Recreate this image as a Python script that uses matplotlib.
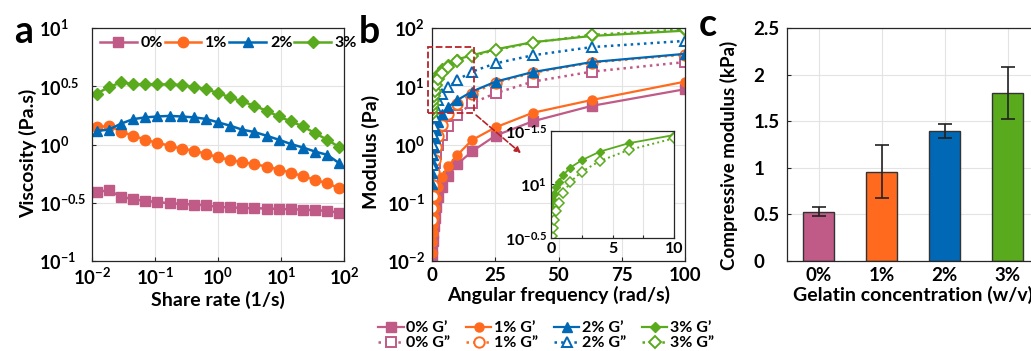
import matplotlib
matplotlib.use("Agg")
import matplotlib.pyplot as plt
from matplotlib.patches import Rectangle

# ---- data -------------------------------------------------------------
labels_pct = ["0%", "1%", "2%", "3%"]
colors = ["#c05a86", "#ff6a1e", "#0068b5", "#5aaa1e"]
markers = ["s", "o", "^", "D"]

# panel a: viscosity vs shear rate
shear_rate = [0.0119, 0.0185, 0.0288, 0.0449, 0.0700, 0.109, 0.170, 0.264, 0.412, 0.642,
              1.0, 1.56, 2.43, 3.78, 5.89, 9.18, 14.3, 22.3, 34.7, 54.1, 84.1]
visc_0 = [0.394, 0.403, 0.357, 0.339, 0.328, 0.321, 0.313, 0.309, 0.305, 0.301, 0.291,
          0.289, 0.285, 0.284, 0.282, 0.280, 0.278, 0.276, 0.273, 0.269, 0.260]
visc_1 = [1.40, 1.45, 1.29, 1.19, 1.10, 1.03, 0.98, 0.918, 0.888, 0.831, 0.778,
          0.738, 0.705, 0.678, 0.647, 0.610, 0.574, 0.535, 0.497, 0.465, 0.421]
visc_2 = [1.31, 1.34, 1.51, 1.65, 1.71, 1.74, 1.76, 1.74, 1.71, 1.66, 1.55,
          1.45, 1.34, 1.28, 1.19, 1.10, 1.01, 0.942, 0.870, 0.815, 0.691]
visc_3 = [2.73, 3.11, 3.41, 3.30, 3.28, 3.28, 3.28, 3.24, 3.11, 2.99, 2.76,
          2.54, 2.34, 2.15, 1.95, 1.74, 1.58, 1.43, 1.25, 1.10, 0.949]

# panel b: moduli vs angular frequency
freq = [0.1, 0.158, 0.251, 0.398, 0.631, 1.0, 1.58, 2.51, 3.98, 6.31, 10.0, 15.8, 25.1, 39.8, 63.1, 100.0]
g1_0 = [0.012, 0.016, 0.022, 0.030, 0.040, 0.055, 0.085, 0.126, 0.19, 0.29, 0.46, 0.76, 1.42, 2.5, 4.6, 8.9]
g2_0 = [0.07, 0.10, 0.15, 0.22, 0.33, 0.48, 0.70, 1.0, 1.46, 2.08, 3.2, 5.1, 7.6, 12.0, 17.8, 26.0]
g1_1 = [0.0135, 0.021, 0.030, 0.042, 0.058, 0.081, 0.12, 0.19, 0.28, 0.42, 0.66, 1.19, 1.97, 3.5, 5.8, 12.0]
g2_1 = [0.05, 0.08, 0.13, 0.20, 0.34, 0.55, 0.9, 1.4, 2.2, 3.3, 5.0, 7.5, 11.5, 17.0, 25.5, 35.0]
g1_2 = [0.21, 0.32, 0.48, 0.66, 0.92, 1.28, 1.77, 2.4, 3.3, 4.4, 5.8, 8.1, 12.0, 17.5, 26.0, 36.0]
g2_2 = [0.45, 0.7, 1.0, 1.5, 2.1, 3.0, 4.2, 5.8, 7.4, 9.6, 12.8, 17.8, 24.7, 34.0, 47.0, 60.0]
g1_3 = [6.0, 7.2, 8.1, 9.4, 10.6, 12.3, 14.4, 16.9, 20.3, 24.3, 29.0, 34.0, 43.0, 57.0, 73.0, 90.0]
g2_3 = [3.3, 3.9, 4.7, 5.6, 6.7, 8.3, 10.6, 13.2, 16.6, 21.0, 27.0, 33.0, 42.0, 56.0, 76.0, 95.0]

# panel c: compressive modulus
comp_mean = [0.53, 0.96, 1.40, 1.80]
comp_err = [0.045, 0.28, 0.075, 0.28]

a_xticks = [1e-2, 1e-1, 1e0, 1e1, 1e2]
a_xticklabels = [r"$10^{-2}$", r"$10^{-1}$", r"$10^{0}$", r"$10^{1}$", r"$10^{2}$"]
a_yticks = [10 ** -1, 10 ** -0.5, 1, 10 ** 0.5, 10]
a_yticklabels = [r"$10^{-1}$", r"$10^{-0.5}$", r"$10^{0}$", r"$10^{0.5}$", r"$10^{1}$"]
b_yticks = [1e-2, 1e-1, 1e0, 1e1, 1e2]
b_yticklabels = [r"$10^{-2}$", r"$10^{-1}$", r"$10^{0}$", r"$10^{1}$", r"$10^{2}$"]
inset_yticks = [10 ** 0.5, 10, 10 ** 1.5]
inset_yticklabels = [r"$10^{-0.5}$", r"$10^{1}$", r"$10^{-1.5}$"]
c_yticks = [0, 0.5, 1, 1.5, 2, 2.5]
c_yticklabels = ["0", "0.5", "1", "1.5", "2", "2.5"]

# ---- style ------------------------------------------------------------
plt.rcParams["font.family"] = ["Lato", "DejaVu Sans"]
plt.rcParams["font.weight"] = "bold"
plt.rcParams["axes.labelweight"] = "bold"
plt.rcParams["mathtext.fontset"] = "custom"
plt.rcParams["mathtext.rm"] = "Lato:bold"
plt.rcParams["mathtext.it"] = "Lato:bold"
plt.rcParams["mathtext.bf"] = "Lato:bold"
plt.rcParams["mathtext.default"] = "rm"

TICK = 13.5
LABEL = 14
GRID = "#e3e3e3"
SPINE = "#262626"

fig = plt.figure(figsize=(10.31, 3.51), dpi=100)
W, H = 1031, 351


def px_axes(left, top, right, bottom):
    return fig.add_axes([left / W, 1 - bottom / H, (right - left) / W, (bottom - top) / H])


def style(ax, size=TICK):
    for s in ax.spines.values():
        s.set_color(SPINE)
        s.set_linewidth(0.9)
    ax.tick_params(which="both", direction="in", length=3, labelsize=size, colors=SPINE,
                   labelcolor="black", pad=5)
    ax.minorticks_off()
    ax.grid(True, color=GRID, linewidth=0.8)
    ax.set_axisbelow(True)


# ---- panel a ----------------------------------------------------------
ax1 = px_axes(92, 28, 344, 261)
for v, c, m, lab in zip([visc_0, visc_1, visc_2, visc_3], colors, markers, labels_pct):
    ms = 6.5 if m == "D" else 7.5
    ax1.plot(shear_rate, v, color=c, marker=m, markersize=ms, linewidth=1.8, label=lab)
ax1.set_xscale("log")
ax1.set_yscale("log")
ax1.set_xlim(1e-2, 1e2)
ax1.set_ylim(1e-1, 1e1)
style(ax1)
ax1.minorticks_off()
ax1.set_xticks(a_xticks)
ax1.set_xticklabels(a_xticklabels)
ax1.set_yticks(a_yticks)
ax1.set_yticklabels(a_yticklabels, ha="left", fontsize=13)
ax1.tick_params(axis="y", pad=38)
ax1.tick_params(axis="x", pad=4)
ax1.set_xlabel("Share rate (1/s)", fontsize=LABEL, labelpad=2)
ax1.set_ylabel("Viscosity (Pa.s)", fontsize=LABEL)
ax1.yaxis.set_label_coords(-0.218, 0.46)
ax1.legend(loc="upper left", bbox_to_anchor=(0.0, 1.0), ncol=4, frameon=False,
           fontsize=11.5, handlelength=2.3, handletextpad=0.25, columnspacing=0.1,
           borderaxespad=0.3, borderpad=0.2)

# ---- panel b ----------------------------------------------------------
ax2 = px_axes(432, 28, 685, 261)
gp = [g1_0, g1_1, g1_2, g1_3]
gpp = [g2_0, g2_1, g2_2, g2_3]
handles = []
for i in range(4):
    ms = 5.5 if markers[i] == "D" else 6.5
    h1, = ax2.plot(freq, gp[i], color=colors[i], marker=markers[i], markersize=ms,
                   linewidth=1.6, label=labels_pct[i] + " G\u2019")
    h2, = ax2.plot(freq, gpp[i], color=colors[i], marker=markers[i], markersize=ms + 1,
                   markerfacecolor="white", markeredgewidth=1.4, linestyle=":",
                   linewidth=1.8, label=labels_pct[i] + " G\u201d")
    handles += [h1, h2]
ax2.set_yscale("log")
ax2.set_xlim(0, 100)
ax2.set_ylim(1e-2, 1e2)
style(ax2)
ax2.minorticks_off()
ax2.set_xticks([0, 25, 50, 75, 100])
ax2.set_yticks(b_yticks)
ax2.set_yticklabels(b_yticklabels)
ax2.tick_params(axis="x", pad=4)
ax2.set_xlabel("Angular frequency (rad/s)", fontsize=LABEL, labelpad=2)
ax2.set_ylabel("Modulus (Pa)", fontsize=LABEL)
ax2.yaxis.set_label_coords(-0.206, 0.47)

# zoom box and arrow
box_col = "#b8232a"
ax2.add_patch(Rectangle((-1.5, 3.43), 18.1, 47.9 - 3.43, fill=False, edgecolor=box_col,
                        linestyle="--", linewidth=1.3, clip_on=False, zorder=10))
ax2.annotate("", xy=(36.0, 0.66), xytext=(16.6, 3.43),
             arrowprops=dict(arrowstyle="-|>", color=box_col, linestyle="--",
                             linewidth=1.2, mutation_scale=9), zorder=10)

fig.legend(handles=handles, loc="upper left", bbox_to_anchor=(370 / W, 1 - 313 / H),
           ncol=4, frameon=False, fontsize=11.5, handlelength=1.6, handletextpad=0.15,
           columnspacing=1.0, labelspacing=0.05, borderpad=0.0)

# inset
axi = px_axes(551, 131, 674, 238)
axi.plot(freq, g1_3, color=colors[3], marker="D", markersize=4.5, linewidth=1.3)
axi.plot(freq, g2_3, color=colors[3], marker="D", markersize=5, markerfacecolor="white",
         markeredgewidth=1.1, linestyle=":", linewidth=1.4)
axi.set_yscale("log")
axi.set_xlim(0, 10)
axi.set_ylim(10 ** 0.5, 10 ** 1.5)
style(axi, size=11.5)
axi.minorticks_off()
axi.set_xticks([0, 2.5, 5, 7.5, 10])
axi.set_xticklabels(["0", "", "5", "", "10"])
axi.set_yticks(inset_yticks)
axi.set_yticklabels(inset_yticklabels)
axi.tick_params(pad=3, length=2)

# ---- panel c ----------------------------------------------------------
ax3 = px_axes(787, 28, 1039, 261)
pos = [1, 2, 3, 4]
ax3.bar(pos, comp_mean, width=0.5, color=colors, edgecolor="#333333", linewidth=1.0, zorder=2)
ax3.errorbar(pos, comp_mean, yerr=comp_err, fmt="none", ecolor="#222222", elinewidth=1.2,
             capsize=5, capthick=1.2, zorder=3)
ax3.set_xlim(0.5, 4.5)
ax3.set_ylim(0, 2.5)
style(ax3)
ax3.set_xticks(pos)
ax3.set_xticklabels(labels_pct)
ax3.set_yticks(c_yticks)
ax3.set_yticklabels(c_yticklabels, ha="left")
ax3.tick_params(axis="y", pad=24)
ax3.tick_params(axis="x", pad=4)
ax3.set_xlabel("Gelatin concentration (w/v)", fontsize=LABEL, labelpad=2)
ax3.set_ylabel("Compressive modulus (kPa)", fontsize=13.5)
ax3.yaxis.set_label_coords(-0.194, 0.455)

# panel letters
for x, y, t in [(14, 43, "a"), (359, 43, "b"), (699, 36, "c")]:
    fig.text(x / W, 1 - y / H, t, fontsize=27, fontweight="bold", va="baseline", ha="left")

fig.savefig("out.png", dpi=100)
